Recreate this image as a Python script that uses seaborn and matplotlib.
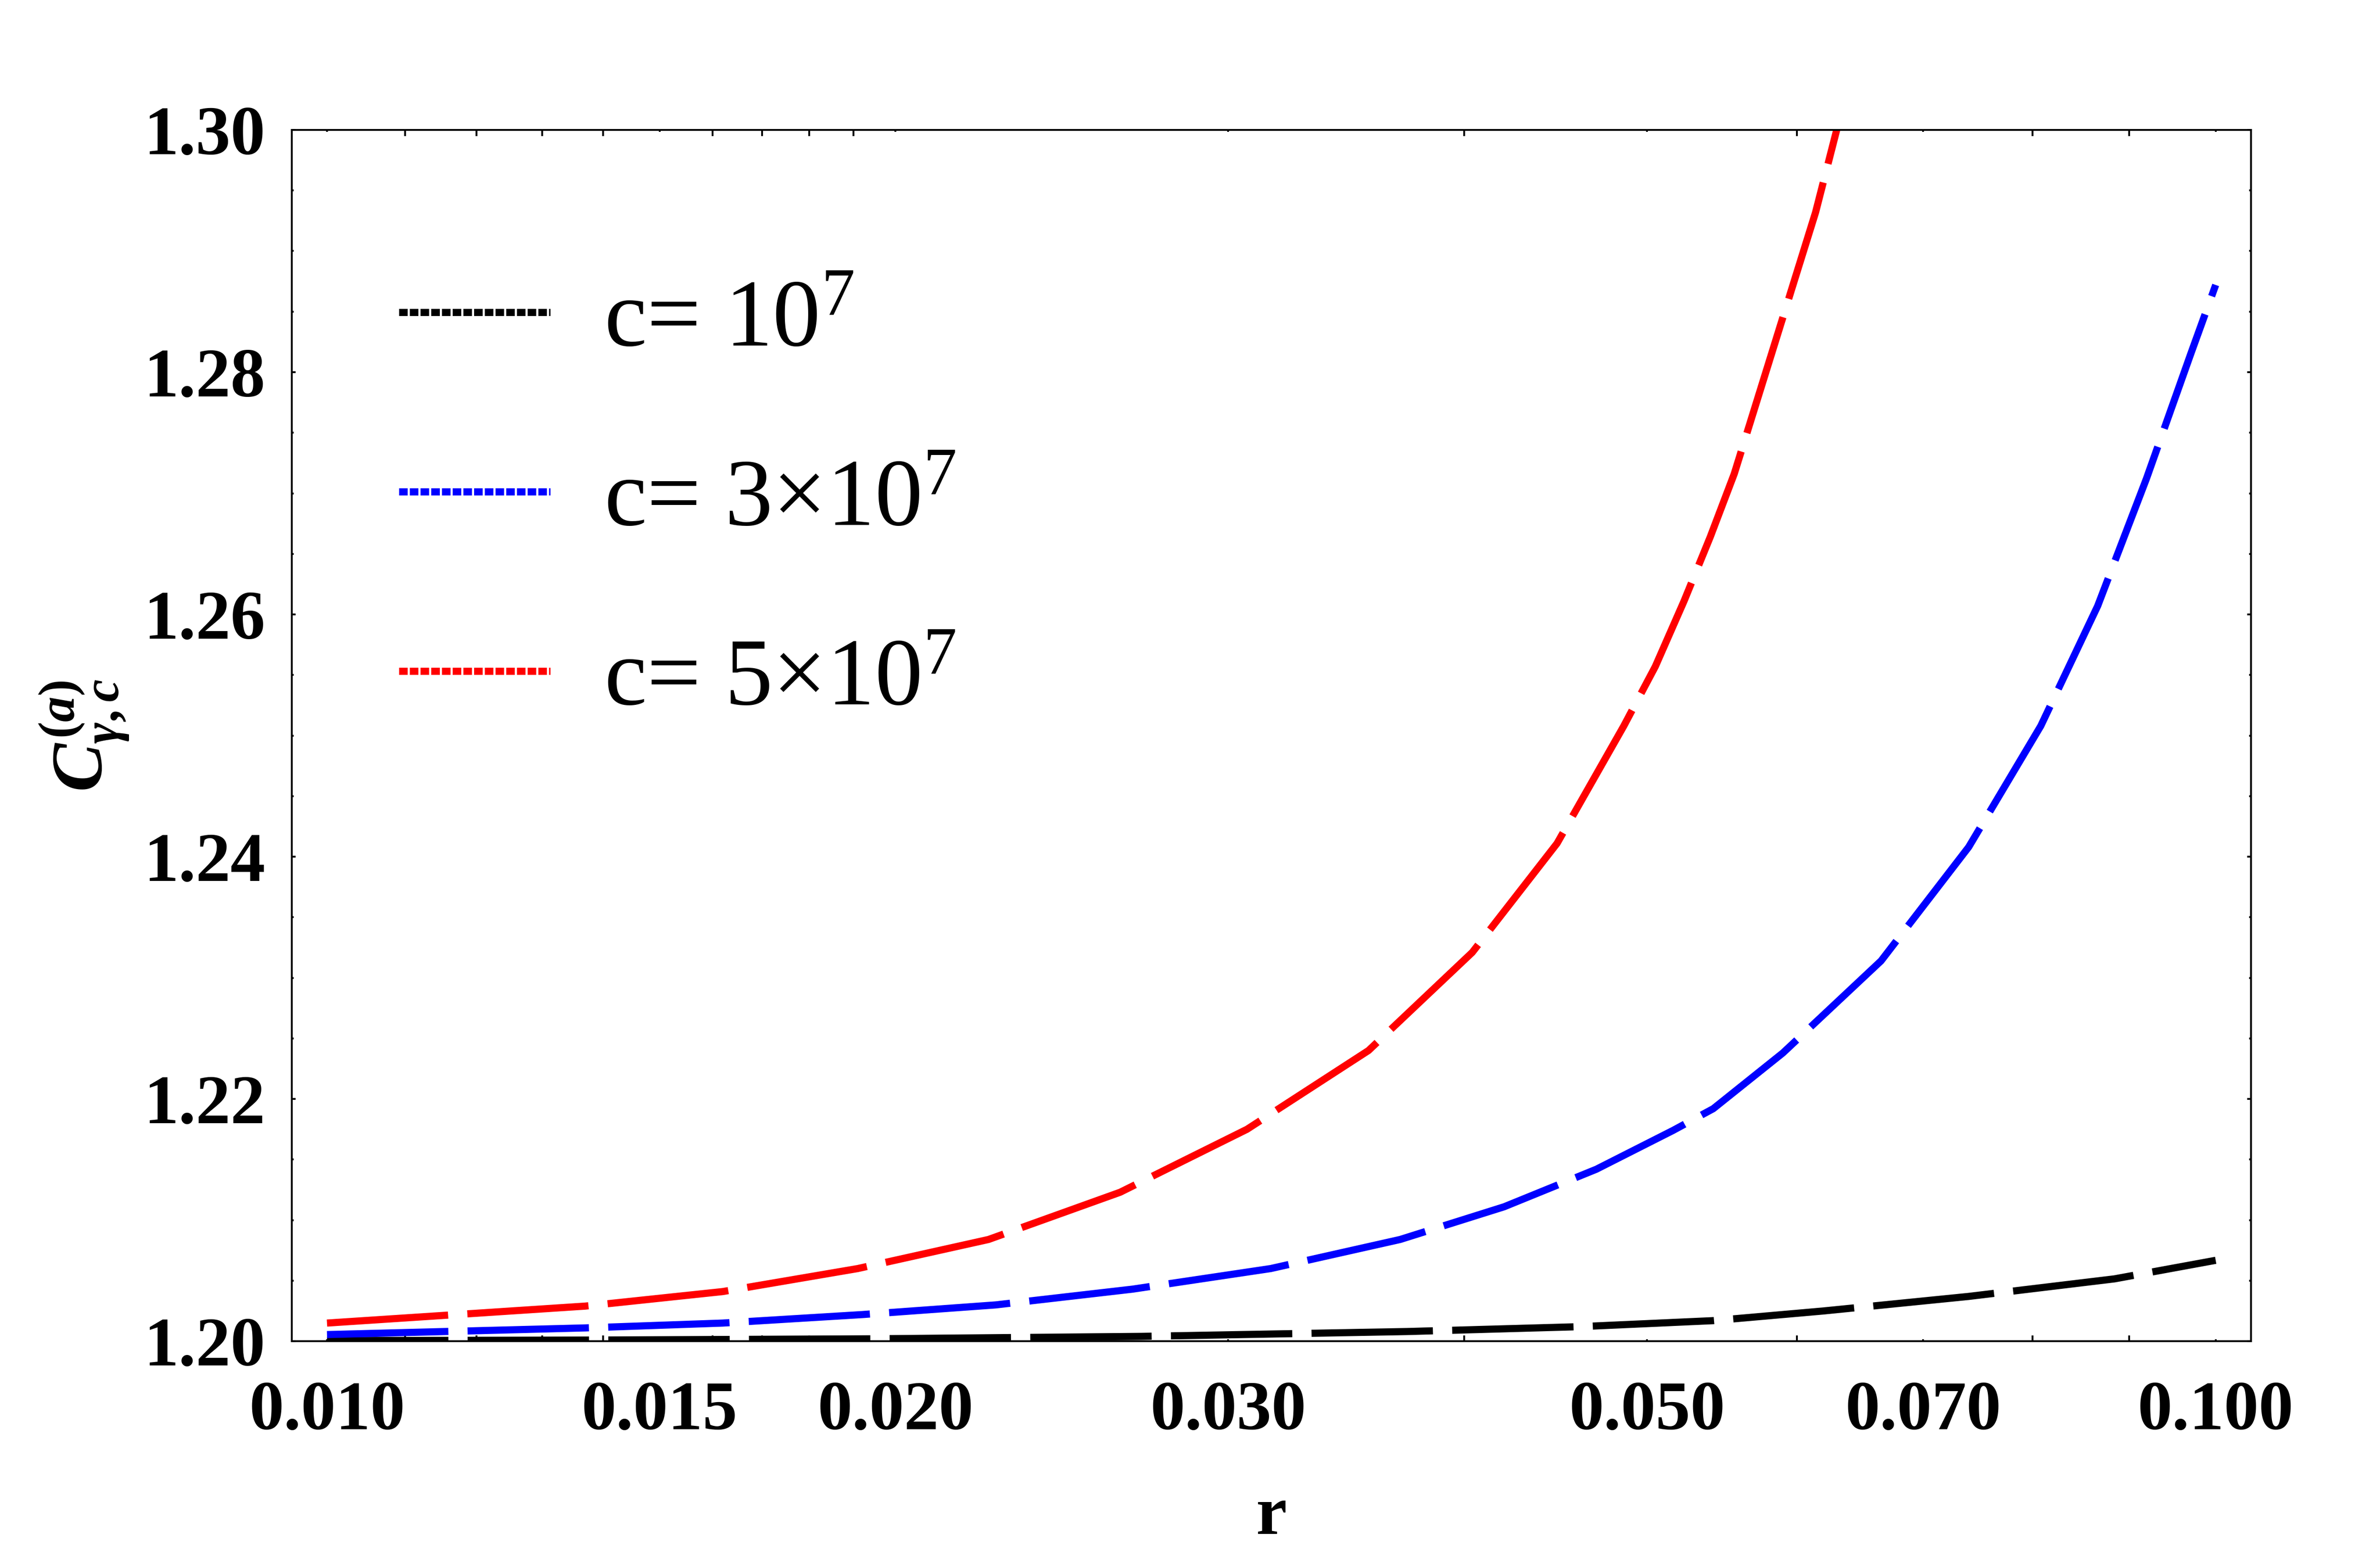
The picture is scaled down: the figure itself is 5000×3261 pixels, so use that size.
import matplotlib
matplotlib.use("Agg")
import numpy as np
import pandas as pd
import seaborn as sns
import matplotlib.pyplot as plt
from matplotlib.lines import Line2D
from matplotlib.ticker import FixedLocator, NullFormatter

# ---------------- data ----------------
r_black = [0.0100, 0.0140, 0.0194, 0.0270, 0.0373, 0.0460, 0.0542, 0.0620, 0.0740, 0.0884, 0.1000]
C_black = [1.20005, 1.2001, 1.2002, 1.2004, 1.2008, 1.2012, 1.2017, 1.2025, 1.2037, 1.20515, 1.20668]

r_blue = [0.0100, 0.0137, 0.0162, 0.0192, 0.0226, 0.0267, 0.0316, 0.0370, 0.0420, 0.0470,
          0.0516, 0.0542, 0.0590, 0.0665, 0.0740, 0.0808, 0.0866, 0.0919, 0.0970, 0.1000]
C_blue = [1.20055, 1.2011, 1.2015, 1.2022, 1.2030, 1.2043, 1.2060, 1.2084, 1.2111, 1.2142,
          1.2174, 1.2192, 1.2238, 1.2314, 1.2408, 1.2508, 1.2607, 1.2712, 1.2815, 1.2872]

r_red = [0.0100, 0.0137, 0.0162, 0.0191, 0.0224, 0.0263, 0.0307, 0.0356, 0.0404, 0.0448,
         0.0486, 0.0505, 0.0523, 0.0540, 0.0556, 0.0584, 0.0614, 0.0630]
C_red = [1.2015, 1.2029, 1.2041, 1.2060, 1.2084, 1.2123, 1.2175, 1.2240, 1.2321, 1.2411,
         1.2508, 1.2557, 1.2611, 1.2664, 1.2716, 1.2823, 1.2932, 1.3000]

series_labels = ["c= $\\mathregular{10^{7}}$",
                 "c= 3×$\\mathregular{10^{7}}$",
                 "c= 5×$\\mathregular{10^{7}}$"]
series_colors = ["#000000", "#0000ff", "#ff0000"]

xtick_vals = [0.010, 0.015, 0.020, 0.030, 0.050, 0.070, 0.100]
xtick_labels = ["0.010", "0.015", "0.020", "0.030", "0.050", "0.070", "0.100"]
xtick_minor = [0.011, 0.012, 0.013, 0.014, 0.016, 0.017, 0.018, 0.019, 0.040, 0.060, 0.080, 0.090]
ytick_vals = [1.20, 1.22, 1.24, 1.26, 1.28, 1.30]
ytick_labels = ["1.20", "1.22", "1.24", "1.26", "1.28", "1.30"]
ytick_minor = [1.205, 1.21, 1.215, 1.225, 1.23, 1.235, 1.245, 1.25, 1.255,
               1.265, 1.27, 1.275, 1.285, 1.29, 1.295]

# ---------------- style ----------------
sns.set_style("ticks")
plt.rcParams["font.family"] = ["Liberation Serif", "DejaVu Serif"]
plt.rcParams["text.color"] = "black"
plt.rcParams["axes.labelcolor"] = "black"
plt.rcParams["mathtext.fontset"] = "custom"
plt.rcParams["mathtext.rm"] = "Liberation Serif:bold"
plt.rcParams["mathtext.it"] = "Liberation Serif:italic:bold"
plt.rcParams["mathtext.bf"] = "Liberation Serif:bold"

fig = plt.figure(figsize=(10, 6.522), dpi=500)
ax = fig.add_axes([0.1226, 0.1358, 0.8232, 0.7805])

LW = 2.16
dash = (0, (17, 2.7))
for rr, cc, col in [(r_black, C_black, series_colors[0]),
                    (r_blue, C_blue, series_colors[1]),
                    (r_red, C_red, series_colors[2])]:
    df = pd.DataFrame({"r": rr, "C": cc})
    sns.lineplot(data=df, x="r", y="C", color=col, lw=LW, linestyle=dash,
                 ax=ax, legend=False, errorbar=None)

ax.set_xscale("log")
ax.set_xlim(0.00958, 0.1044)
ax.set_ylim(1.20, 1.30)

ax.xaxis.set_major_locator(FixedLocator(xtick_vals))
ax.set_xticklabels(xtick_labels, fontweight="bold", fontsize=21)
ax.xaxis.set_minor_locator(FixedLocator(xtick_minor))
ax.xaxis.set_minor_formatter(NullFormatter())
ax.set_yticks(ytick_vals)
ax.set_yticklabels(ytick_labels, fontweight="bold", fontsize=21)
ax.yaxis.set_minor_locator(FixedLocator(ytick_minor))

for s in ax.spines.values():
    s.set_color("black")
    s.set_linewidth(0.55)

ax.tick_params(axis="both", which="both", direction="in", top=True, right=True,
               width=0.55, color="black", labelcolor="black")
ax.tick_params(axis="x", which="major", length=0.6, pad=12)
ax.tick_params(axis="x", which="minor", length=1.8)
ax.tick_params(axis="y", which="major", length=1.2, pad=8)
ax.tick_params(axis="y", which="minor", length=0.6)

ax.set_xlabel("r", fontsize=21, fontweight="bold", labelpad=12.5, color="black")
ax.set_ylabel(r"$C^{(a)}_{\gamma,c}$", fontsize=22, labelpad=4, color="black")

handles = [Line2D([], [], color=c, lw=LW, linestyle=(0, (1.2, 0.3))) for c in series_colors]
leg = ax.legend(handles, series_labels, loc="upper left", bbox_to_anchor=(0.1676, 0.8206),
                bbox_transform=fig.transFigure, frameon=False, fontsize=29,
                handlelength=1.58, handletextpad=0.56, labelspacing=0.96, borderpad=0,
                borderaxespad=0, labelcolor="black")

fig.savefig("out.png", dpi=500)
